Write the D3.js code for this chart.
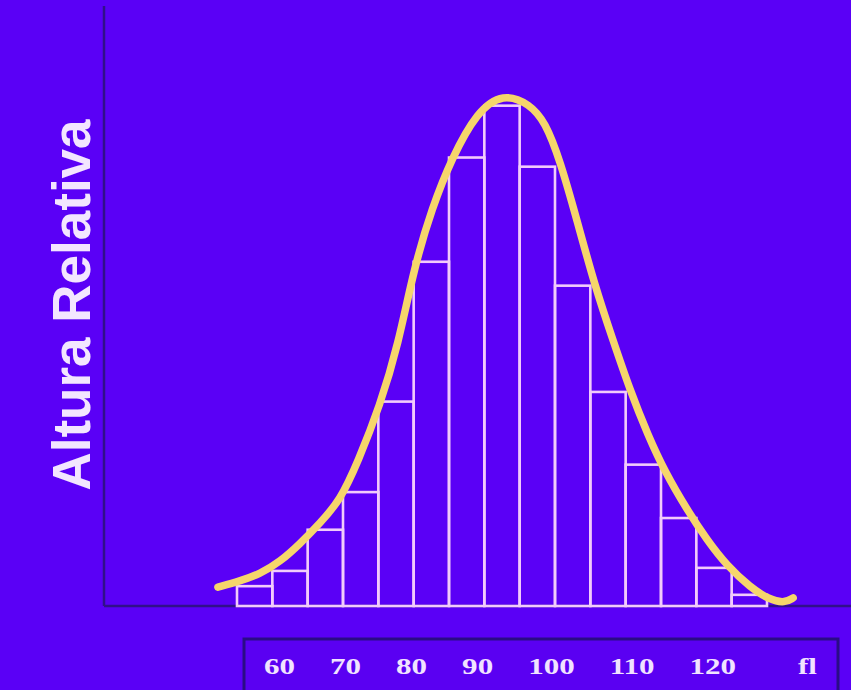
<!DOCTYPE html>
<html>
<head>
<meta charset="utf-8">
<script src="https://cdn.jsdelivr.net/npm/d3@7"></script>
<style>
  html, body { margin: 0; padding: 0; background: #5a00f6; }
  svg { display: block; }
</style>
</head>
<body>
<div id="chart"></div>
<script>
// histogram bars (relative height, peak of the curve ~100)
var barHeights = [3.9, 6.9, 15.0, 22.4, 40.2, 67.7, 88.2, 98.4, 86.4, 63.0, 42.1, 27.8, 17.3, 7.5, 2.2];

// hand-drawn bell curve (x in bin units, y in relative height)
var curveX = [-0.54, 0.08, 0.65, 1.22, 1.78, 2.35, 2.92, 3.42, 4.05, 4.56, 5.01, 5.52, 6.08, 6.79, 7.53,
              8.29, 8.72, 9.14, 9.62, 10.13, 10.64, 11.12, 11.63, 12.11, 12.74, 13.30, 13.87, 14.52, 15.08, 15.51, 15.74];
var curveY = [3.7, 4.9, 6.3, 8.7, 12.2, 16.3, 20.8, 28.3, 39.5, 51.3, 66.5, 78.3, 88.1, 97.2, 100.9,
              98.7, 95.2, 87.7, 75.9, 62.9, 52.3, 42.5, 33.6, 26.4, 18.9, 13.0, 7.9, 3.7, 1.2, 0.6, 1.6];

var tickLabels = ["60", "70", "80", "90", "100", "110", "120", "fl"];
var yTitle = "Altura Relativa";

var width = 851;
var height = 690;

var svg = d3.select("#chart")
    .append("svg")
    .attr("width", width)
    .attr("height", height)

svg.append("rect")
    .attr("width", width)
    .attr("height", height)
    .attr("fill", "#5a00f6")

var x = d3.scaleLinear().domain([0, barHeights.length]).range([237, 767]);
var y = d3.scaleLinear().domain([0, 118]).range([606, 6]);
var axisLeft = 104;

// axes (plain lines, no ticks)
svg.append("line")
    .attr("x1", axisLeft).attr("x2", axisLeft)
    .attr("y1", y(118)).attr("y2", y(0))
    .attr("stroke", "#31108a")
    .attr("stroke-width", 2.5)

svg.append("line")
    .attr("x1", axisLeft).attr("x2", width)
    .attr("y1", y(0)).attr("y2", y(0))
    .attr("stroke", "#31108a")
    .attr("stroke-width", 2.5)

// bars
svg.append("g")
    .selectAll("rect")
    .data(barHeights)
    .enter()
    .append("rect")
    .attr("x", (d, i) => x(i))
    .attr("width", (d, i) => x(i + 1) - x(i))
    .attr("y", d => y(d))
    .attr("height", d => y(0) - y(d))
    .attr("fill", "none")
    .attr("stroke", "#f2cbfb")
    .attr("stroke-width", 2.6)

// curve (B-spline smooths the hand-read points)
var pts = curveX.map((d, i) => [d, curveY[i]]);
var line = d3.line()
    .x(d => x(d[0]))
    .y(d => y(d[1]))
    .curve(d3.curveBasis);

svg.append("path")
    .datum(pts)
    .attr("d", line)
    .attr("fill", "none")
    .attr("stroke", "#f6d66b")
    .attr("stroke-width", 7.5)
    .attr("stroke-linecap", "round")
    .attr("stroke-linejoin", "round")

// y title
svg.append("text")
    .attr("transform", "translate(90," + 305 + ") rotate(-90)")
    .attr("text-anchor", "middle")
    .style("font-family", "'Liberation Sans', Arial, sans-serif")
    .style("font-weight", "bold")
    .style("font-size", "53px")
    .attr("fill", "#f3e6ff")
    .text(yTitle)

// label box
var box = { x: 244, y: 639, w: 594, h: 70 };
svg.append("rect")
    .attr("x", box.x)
    .attr("y", box.y)
    .attr("width", box.w)
    .attr("height", box.h)
    .attr("fill", "#5a00f2")
    .attr("stroke", "#2a0c86")
    .attr("stroke-width", 3)

var sx = 1.35;
var gLabels = svg.append("g")
    .attr("transform", "translate(0,674) scale(" + sx + ",1)")

var cursor = 264 / sx;
var gap = 35 / sx;
tickLabels.forEach(function(t, i) {
    var txt = gLabels.append("text")
        .style("font-family", "'Liberation Serif', 'Times New Roman', serif")
        .style("font-weight", "bold")
        .style("font-size", "23px")
        .attr("fill", "#f1e3ff")
        .text(t)
    if (i === tickLabels.length - 1) {
        txt.attr("text-anchor", "end").attr("x", (box.x + box.w - 21) / sx)
    } else {
        txt.attr("x", cursor)
        cursor += txt.node().getComputedTextLength() + gap
    }
})
</script>
</body>
</html>
